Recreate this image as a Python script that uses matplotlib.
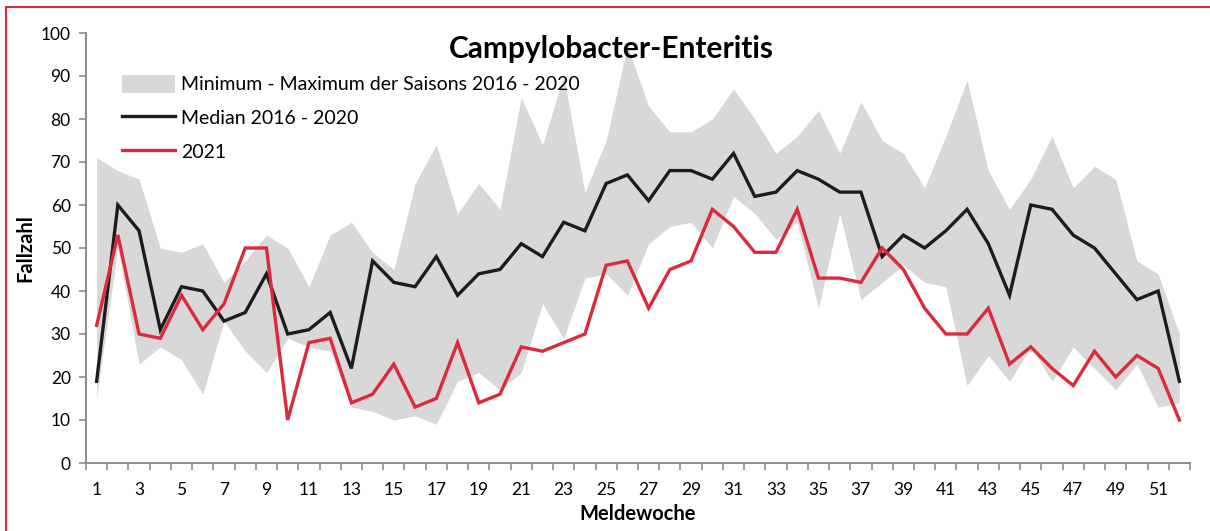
import matplotlib
matplotlib.use("Agg")
import matplotlib.pyplot as plt
from matplotlib.patches import Patch, Rectangle
from matplotlib.lines import Line2D
import numpy as np

plt.rcParams['font.family'] = ['Lato', 'DejaVu Sans']

weeks = list(range(1, 53))
median_2016_2020 = [19, 60, 54, 31, 41, 40, 33, 35, 44, 30, 31, 35, 22, 47, 42, 41, 48, 39,
                    44, 45, 51, 48, 56, 54, 65, 67, 61, 68, 68, 66, 72, 62, 63, 68, 66, 63,
                    63, 48, 53, 50, 54, 59, 51, 39, 60, 59, 53, 50, 44, 38, 40, 19]
cases_2021 = [32, 53, 30, 29, 39, 31, 37, 50, 50, 10, 28, 29, 14, 16, 23, 13, 15, 28,
              14, 16, 27, 26, 28, 30, 46, 47, 36, 45, 47, 59, 55, 49, 49, 59, 43, 43,
              42, 50, 45, 36, 30, 30, 36, 23, 27, 22, 18, 26, 20, 25, 22, 10]
max_2016_2020 = [71, 68, 66, 50, 49, 51, 42, 47, 53, 50, 41, 53, 56, 49, 45, 65, 74, 58,
                 65, 59, 85, 74, 90, 63, 75, 97, 83, 77, 77, 80, 87, 80, 72, 76, 82, 72,
                 84, 75, 72, 64, 76, 89, 68, 59, 66, 76, 64, 69, 66, 47, 44, 30]
min_2016_2020 = [15, 50, 23, 27, 24, 16, 33, 26, 21, 29, 27, 26, 13, 12, 10, 11, 9, 19,
                 21, 17, 21, 37, 29, 43, 44, 39, 51, 55, 56, 50, 62, 58, 52, 56, 36, 58,
                 38, 42, 46, 42, 41, 18, 25, 19, 27, 19, 27, 22, 17, 23, 13, 14]
x_tick_labels = [str(w) if w % 2 == 1 else "" for w in weeks]

W, H = 1210, 531
fig = plt.figure(figsize=(W / 100, H / 100), dpi=100)
ax = fig.add_axes([86 / W, 1 - 463 / H, (1190 - 86) / W, (463 - 33) / H])

band_color = '#d8d8d8'
red = '#dc2a3c'
black = '#1c1c1c'

ax.fill_between(weeks, min_2016_2020, max_2016_2020, color=band_color, lw=0, zorder=1)
ax.plot(weeks, median_2016_2020, color=black, lw=2.4, zorder=3, solid_joinstyle='miter')
ax.plot(weeks, cases_2021, color=red, lw=2.4, zorder=4, solid_joinstyle='miter')

ax.set_xlim(0.5, 52.5)
ax.set_ylim(0, 100)
ax.set_yticks(range(0, 101, 10))
ax.set_xticks(weeks)
ax.set_xticklabels(x_tick_labels)
ax.set_xticks(np.arange(0.5, 53, 1), minor=True)
ax.tick_params(axis='x', which='major', length=0, labelsize=12.5, pad=14)
ax.tick_params(axis='x', which='minor', length=5, width=1.2, color='#8c8c8c', direction='out')
ax.tick_params(axis='y', length=5, width=1.2, color='#8c8c8c', direction='out', labelsize=12.5, pad=6)

for s in ['top', 'right']:
    ax.spines[s].set_visible(False)
for s in ['left', 'bottom']:
    ax.spines[s].set_color('#8c8c8c')
    ax.spines[s].set_linewidth(1.4)

ax.set_xlabel('Meldewoche', fontsize=14.5, fontweight='bold', labelpad=4)
ax.set_ylabel('Fallzahl', fontsize=14.5, fontweight='bold', labelpad=4)

ax.text(0.4758, 0.963, 'Campylobacter-Enteritis', transform=ax.transAxes, ha='center', va='center',
        fontsize=21.5, fontweight='bold')

handles = [Patch(facecolor=band_color, edgecolor='none'),
           Line2D([0], [0], color=black, lw=2.4),
           Line2D([0], [0], color=red, lw=2.4)]
labels = ['Minimum - Maximum der Saisons 2016 - 2020', 'Median 2016 - 2020', '2021']
ax.legend(handles, labels, loc='upper left', bbox_to_anchor=(0.0326, 0.903), frameon=False,
          fontsize=14, handlelength=2.73, handleheight=1.05, handletextpad=0.32,
          labelspacing=0.775, borderpad=0, borderaxespad=0)

fig.patches.append(Rectangle((6 / W, -0.05), 1.1, 1 - 7 / H + 0.05, transform=fig.transFigure,
                             fill=False, edgecolor='#dc2a3c', lw=1.5))

fig.savefig('out.png', dpi=100)
